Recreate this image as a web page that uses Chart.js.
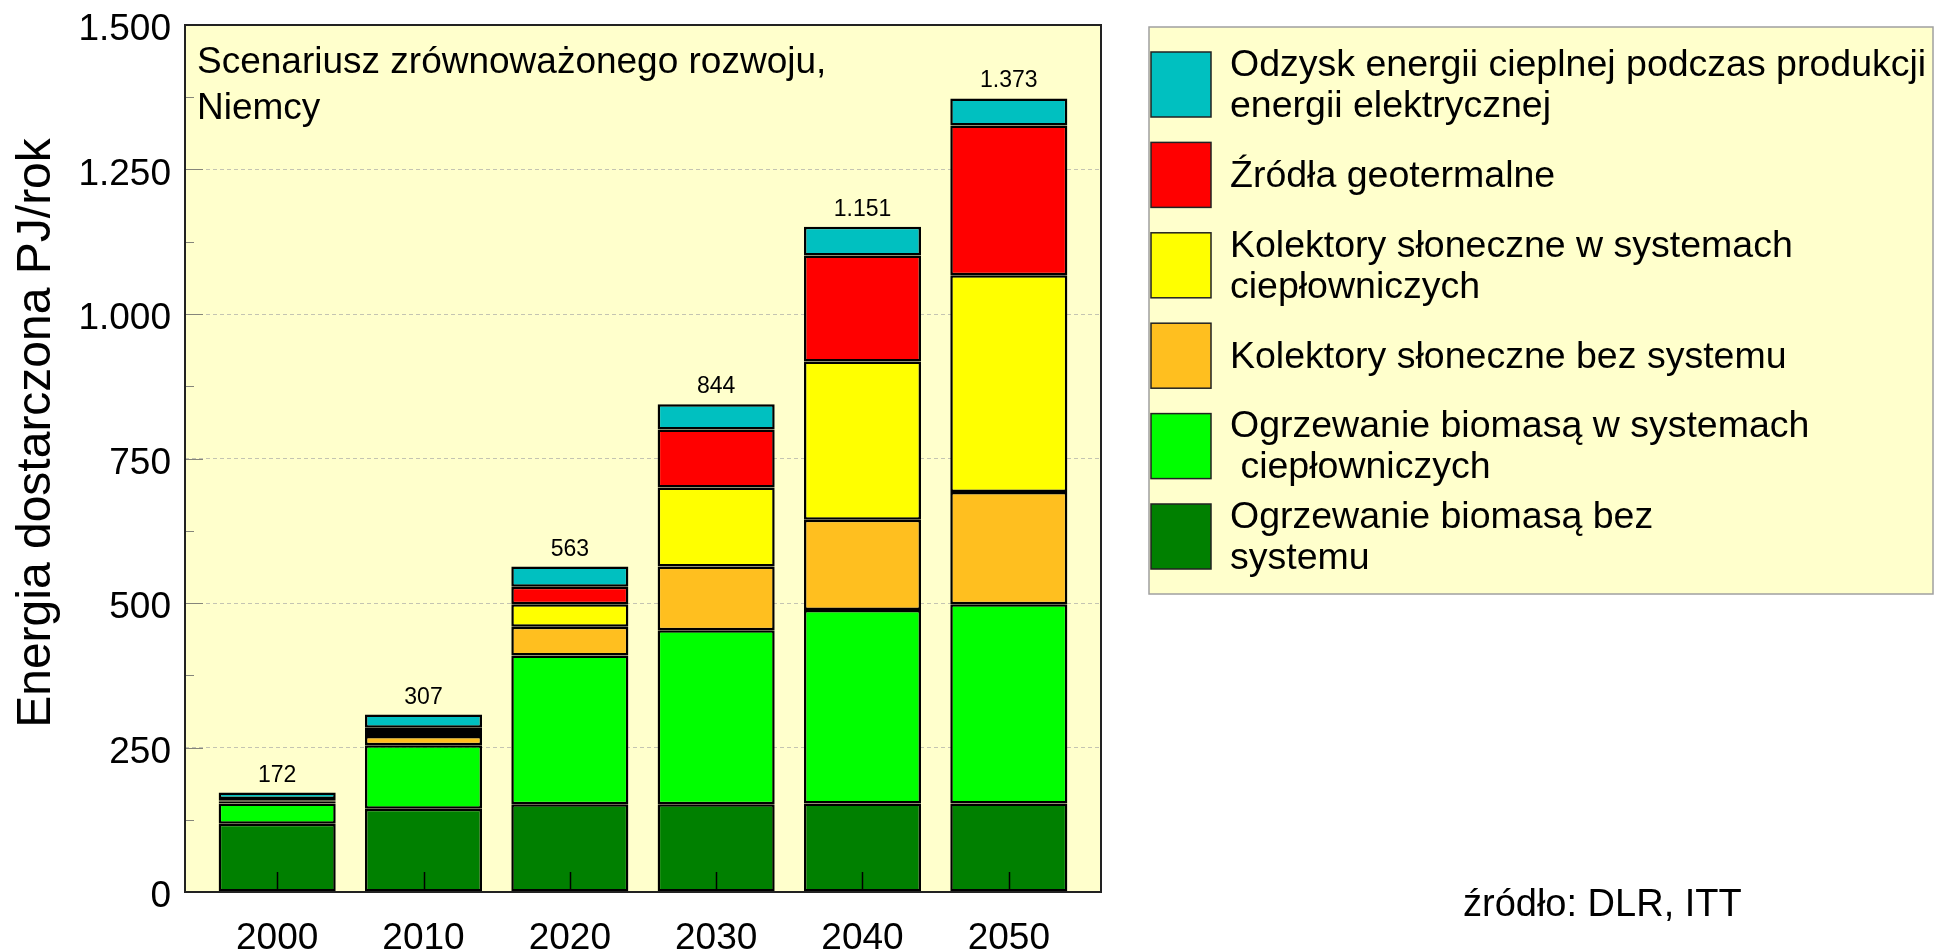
<!DOCTYPE html>
<html lang="pl">
<head>
<meta charset="utf-8">
<title>Scenariusz zrównoważonego rozwoju, Niemcy</title>
<script src="https://cdn.jsdelivr.net/npm/chart.js@4.4.1/dist/chart.umd.min.js"></script>
<style>
  html, body { margin: 0; padding: 0; background: #fff; }
  canvas { display: block; }
</style>
</head>
<body>
<canvas id="chart" width="1934" height="950"></canvas>
<script>
// --- Data (PJ/rok) ---
const years = ['2000', '2010', '2020', '2030', '2040', '2050'];
const biomasaBezSystemu   = [118, 144, 152, 152, 153, 153];
const biomasaWSystemach   = [35, 110, 257, 301, 335, 345];
const kolektoryBezSystemu = [3, 16, 50, 110, 156, 194];
const kolektoryWSystemach = [2, 7, 39, 137, 274, 375];
const geotermalne         = [3, 7, 30, 100, 183, 259];
const odzyskCiepla        = [11, 23, 35, 44, 50, 47];
const totals = [172, 307, 563, 844, 1151, 1373];
const yTicks = [0, 250, 500, 750, 1000, 1250, 1500];

// bottom -> top of the stack
const seriesData = [biomasaBezSystemu, biomasaWSystemach, kolektoryBezSystemu,
  kolektoryWSystemach, geotermalne, odzyskCiepla];
const seriesLabels = [
  'Ogrzewanie biomasą bez\nsystemu',
  'Ogrzewanie biomasą w systemach\n ciepłowniczych',
  'Kolektory słoneczne bez systemu',
  'Kolektory słoneczne w systemach\nciepłowniczych',
  'Źródła geotermalne',
  'Odzysk energii cieplnej podczas produkcji\nenergii elektrycznej'
];
const seriesColors = ['#008000', '#00ff00', '#ffbf1f', '#ffff00', '#ff0000', '#00c0c0'];

const FONT = '"Liberation Sans", Arial, Helvetica, sans-serif';
const PLOT_BG = '#ffffcc';

// 1.500 style thousands separator
const fmt = v => v >= 1000
  ? Math.floor(v / 1000) + '.' + String(v % 1000).padStart(3, '0')
  : String(v);

// --- Extra drawing: background, inner ticks, totals, legend, texts ---
const decorations = {
  id: 'decorations',
  beforeDraw(chart) {
    const { ctx, chartArea: a } = chart;
    ctx.save();
    ctx.fillStyle = PLOT_BG;
    ctx.fillRect(a.left, a.top, a.right - a.left, a.bottom - a.top);
    ctx.restore();
  },
  beforeDatasetsDraw(chart) {
    const { ctx, chartArea: a, scales: { y } } = chart;
    ctx.save();
    ctx.strokeStyle = '#85857a';
    ctx.lineWidth = 1;
    yTicks.forEach((v, i) => {
      const py = Math.round(y.getPixelForValue(v)) + 0.5;
      ctx.beginPath();
      ctx.moveTo(a.left, py);
      ctx.lineTo(a.left + 18, py);
      ctx.stroke();
      if (i < yTicks.length - 1) {
        const my = Math.round(y.getPixelForValue((v + yTicks[i + 1]) / 2)) + 0.5;
        ctx.beginPath();
        ctx.moveTo(a.left, my);
        ctx.lineTo(a.left + 9, my);
        ctx.stroke();
      }
    });
    ctx.restore();
  },
  afterDatasetsDraw(chart) {
    const { ctx, chartArea: a, scales: { x, y } } = chart;
    ctx.save();
    // small tick marks at the bar centres
    ctx.strokeStyle = '#000';
    ctx.lineWidth = 1.5;
    years.forEach((_, i) => {
      const px = Math.round(x.getPixelForValue(i)) + 0.5;
      ctx.beginPath();
      ctx.moveTo(px, a.bottom);
      ctx.lineTo(px, a.bottom - 20);
      ctx.stroke();
    });
    // totals above the bars
    ctx.fillStyle = '#000';
    ctx.font = '23px ' + FONT;
    ctx.textAlign = 'center';
    ctx.textBaseline = 'alphabetic';
    totals.forEach((t, i) => {
      ctx.fillText(fmt(t), x.getPixelForValue(i), y.getPixelForValue(t) - 11);
    });
    ctx.restore();
  },
  afterDraw(chart) {
    const { ctx, chartArea: a } = chart;
    ctx.save();
    // plot frame
    ctx.strokeStyle = '#222';
    ctx.lineWidth = 2;
    ctx.strokeRect(a.left, a.top, a.right - a.left, a.bottom - a.top);

    // scenario caption inside the plot
    ctx.fillStyle = '#000';
    ctx.font = '37px ' + FONT;
    ctx.textAlign = 'left';
    ctx.textBaseline = 'alphabetic';
    ctx.fillText('Scenariusz zrównoważonego rozwoju,', a.left + 12, 73);
    ctx.fillText('Niemcy', a.left + 12, 119);

    // y axis title
    ctx.save();
    ctx.translate(37, 433);
    ctx.rotate(-Math.PI / 2);
    ctx.font = '48px ' + FONT;
    ctx.textAlign = 'center';
    ctx.textBaseline = 'middle';
    ctx.fillText('Energia dostarczona PJ/rok', 0, 0);
    ctx.restore();

    // legend box (top item = top of stack)
    const box = { left: 1149, top: 27, right: 1933, bottom: 594 };
    ctx.fillStyle = PLOT_BG;
    ctx.fillRect(box.left, box.top, box.right - box.left, box.bottom - box.top);
    ctx.strokeStyle = '#a0a0a0';
    ctx.lineWidth = 1.5;
    ctx.strokeRect(box.left, box.top, box.right - box.left, box.bottom - box.top);

    ctx.font = '37.5px ' + FONT;
    ctx.textBaseline = 'middle';
    const order = seriesLabels.map((_, k) => k).reverse();
    order.forEach((k, row) => {
      const top = 52 + row * 90.4;
      ctx.fillStyle = seriesColors[k];
      ctx.fillRect(1151, top, 60, 65);
      ctx.strokeStyle = '#222';
      ctx.lineWidth = 1.5;
      ctx.strokeRect(1151, top, 60, 65);
      const lines = seriesLabels[k].split('\n');
      ctx.fillStyle = '#000';
      lines.forEach((line, j) => {
        const cy = top + 34 + (j - (lines.length - 1) / 2) * 41;
        ctx.fillText(line, 1230, cy);
      });
    });

    // source
    ctx.font = '38px ' + FONT;
    ctx.textBaseline = 'alphabetic';
    ctx.fillText('źródło: DLR, ITT', 1463, 916);
    ctx.restore();
  }
};

// --- Chart ---
const ctx = document.getElementById('chart').getContext('2d');
new Chart(ctx, {
  type: 'bar',
  data: {
    datasets: seriesData.map((vals, k) => ({
      label: seriesLabels[k],
      data: vals.map((v, i) => ({ x: i, y: v })),
      backgroundColor: seriesColors[k],
      borderColor: '#000',
      borderWidth: 2.5,
      borderSkipped: false,
      stack: 'razem',
      barPercentage: 0.8,
      categoryPercentage: 1
    }))
  },
  options: {
    responsive: false,
    animation: false,
    layout: { padding: { left: 0, top: 25, right: 833, bottom: 0 } },
    plugins: {
      legend: { display: false },
      tooltip: { enabled: false },
      title: { display: false }
    },
    scales: {
      x: {
        type: 'linear',
        min: -0.63,
        max: 5.63,
        bounds: 'data',
        offset: false,
        grid: { display: false, drawTicks: false, offset: false },
        border: { display: false },
        afterBuildTicks: (s) => { s.ticks = years.map((_, i) => ({ value: i })); },
        afterFit: (s) => { s.height = 58; s.paddingLeft = 0; s.paddingRight = 0; },
        ticks: {
          padding: 25,
          color: '#000',
          font: { family: FONT, size: 37 },
          callback: (v) => years[v]
        }
      },
      y: {
        stacked: true,
        min: 0,
        max: 1500,
        grid: { color: '#c4c4b2', lineWidth: 1, drawTicks: false },
        border: { display: false, dash: [4, 3] },
        afterFit: (s) => { s.width = 185; s.paddingTop = 0; s.paddingBottom = 0; },
        ticks: {
          stepSize: 250,
          padding: 14,
          labelOffset: 5,
          color: '#000',
          font: { family: FONT, size: 37 },
          callback: (v) => fmt(v)
        }
      }
    }
  },
  plugins: [decorations]
});
</script>
</body>
</html>
